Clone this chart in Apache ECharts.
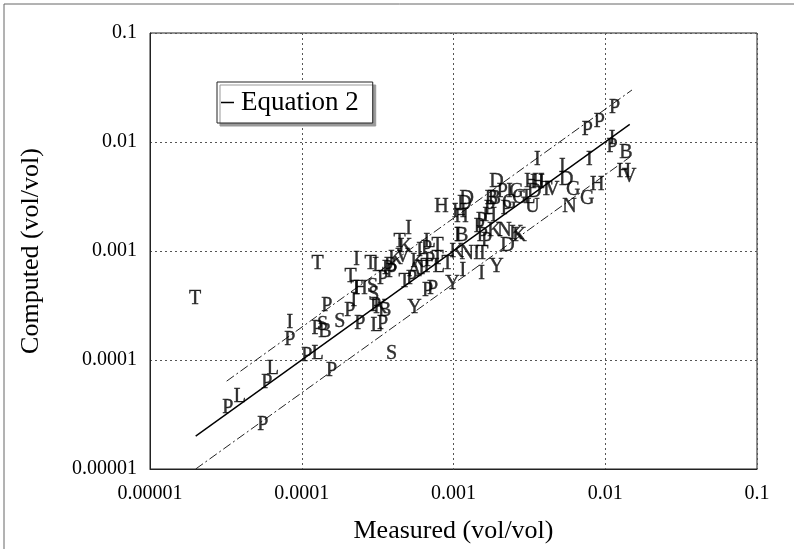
<!DOCTYPE html>
<html>
<head>
<meta charset="utf-8">
<script src="https://cdn.jsdelivr.net/npm/echarts@6/dist/echarts.min.js"></script>
<style>
  html, body { margin: 0; padding: 0; background: #fff; }
  #chart { width: 794px; height: 549px; }
</style>
</head>
<body>
<div id="chart"></div>
<script>
// tick labels for both log axes
const tickLabels = ['0.00001', '0.0001', '0.001', '0.01', '0.1']

// point codes with measured / computed values (vol/vol)
const codes = [
  'T','I','P','P','L','P','L','P','L','P','P','S','P','P','B','S','S','P','P','L','P',
  'T','I','T','L','B','T','T','I','H','S','S','P','P','P','K','B',
  'I','T','K','K','V','I','P','L','T','P','T','K','T','L','T','P','T','P','A','T',
  'Y','P','P','Y','I','I','Y','K','N','I','T','I','B','H','H','D','H',
  'P','P','K','P','N','K','K','D','P','H','P','P','D','B','B','P','I','G','G','G',
  'H','H','I','D','L','U','T','V','I','I','D','G','N','G','H','I',
  'P','P','P','I','P','B','H','V','D'
]
const measured = [
  1.98e-5, 8.34e-5, 8.34e-5, 3.26e-5, 3.91e-5, 5.89e-5, 6.44e-5, 1.08e-4, 1.27e-4, 5.53e-5, 1.57e-4, 3.91e-4, 1.46e-4, 1.26e-4, 1.42e-4, 1.37e-4, 1.78e-4, 2.07e-4, 2.41e-4, 3.11e-4, 3.41e-4,
  1.27e-4, 2.30e-4, 2.84e-4, 3.20e-4, 3.85e-4, 2.10e-4, 2.30e-4, 2.20e-4, 2.44e-4, 2.93e-4, 2.98e-4, 3.41e-4, 3.91e-4, 3.07e-4, 3.30e-4, 3.52e-4,
  5.06e-4, 4.42e-4, 4.80e-4, 4.15e-4, 4.62e-4, 5.97e-4, 6.64e-4, 6.95e-4, 7.85e-4, 6.95e-4, 7.85e-4, 5.80e-4, 6.64e-4, 8.00e-4, 9.13e-4, 3.68e-4, 4.76e-4, 5.30e-4, 5.54e-4, 6.16e-4,
  5.54e-4, 6.74e-4, 7.27e-4, 9.85e-4, 1.15e-3, 1.53e-3, 1.92e-3, 1.05e-3, 1.22e-3, 1.42e-3, 1.55e-3, 1.06e-3, 1.13e-3, 1.13e-3, 1.09e-3, 1.18e-3, 8.34e-4,
  1.48e-3, 1.55e-3, 1.86e-3, 1.65e-3, 2.17e-3, 2.60e-3, 2.72e-3, 2.27e-3, 1.73e-3, 1.73e-3, 1.53e-3, 2.23e-3, 1.92e-3, 1.78e-3, 1.86e-3, 2.10e-3, 2.34e-3, 2.60e-3, 2.34e-3, 2.72e-3,
  3.26e-3, 3.57e-3, 3.79e-3, 3.41e-3, 3.16e-3, 3.31e-3, 4.09e-3, 4.48e-3, 3.57e-3, 5.21e-3, 5.54e-3, 6.16e-3, 5.80e-3, 7.62e-3, 8.85e-3, 7.85e-3,
  7.62e-3, 9.14e-3, 1.15e-2, 1.11e-2, 1.11e-2, 1.37e-2, 1.33e-2, 1.44e-2, 1.22e-3
]
const computed = [
  3.65e-4, 2.20e-4, 1.54e-4, 3.61e-5, 4.64e-5, 6.23e-5, 8.36e-5, 1.10e-4, 1.15e-4, 2.52e-5, 8.02e-5, 1.15e-4, 3.15e-4, 1.94e-4, 1.82e-4, 2.11e-4, 2.25e-4, 2.83e-4, 2.15e-4, 2.07e-4, 2.15e-4,
  7.61e-4, 8.30e-4, 7.61e-4, 7.30e-4, 7.30e-4, 5.79e-4, 4.50e-4, 3.49e-4, 4.50e-4, 4.69e-4, 3.97e-4, 5.55e-4, 6.43e-4, 3.15e-4, 3.02e-4, 2.83e-4,
  1.59e-3, 1.21e-3, 1.09e-3, 8.45e-4, 8.80e-4, 1.00e-3, 1.04e-3, 1.21e-3, 1.11e-3, 8.10e-4, 8.45e-4, 7.94e-4, 7.14e-4, 7.14e-4, 7.61e-4, 6.85e-4, 5.21e-4, 5.55e-4, 6.57e-4, 6.85e-4,
  3.02e-4, 4.31e-4, 4.50e-4, 5.00e-4, 6.57e-4, 6.17e-4, 7.14e-4, 9.80e-4, 9.40e-4, 9.40e-4, 9.40e-4, 1.37e-3, 1.37e-3, 2.05e-3, 2.30e-3, 2.69e-3, 2.52e-3,
  1.66e-3, 1.37e-3, 1.52e-3, 1.23e-3, 1.52e-3, 1.43e-3, 1.37e-3, 1.11e-3, 2.42e-3, 2.09e-3, 1.88e-3, 2.42e-3, 4.36e-3, 2.99e-3, 2.99e-3, 3.53e-3, 3.53e-3, 3.53e-3, 2.80e-3, 3.11e-3,
  4.36e-3, 4.27e-3, 4.36e-3, 3.53e-3, 3.11e-3, 2.52e-3, 3.68e-3, 3.68e-3, 6.92e-3, 5.98e-3, 4.54e-3, 3.68e-3, 2.52e-3, 2.99e-3, 4.09e-3, 6.92e-3,
  1.30e-2, 1.54e-2, 2.07e-2, 1.07e-2, 9.10e-3, 8.00e-3, 5.38e-3, 4.84e-3, 2.99e-3
]

// Equation 2 line (1:1) and the factor-of-two bands
const eqX = [2.0e-5, 1.45e-2]
const eqY = [2.0e-5, 1.45e-2]
const upperX = [3.2e-5, 1.5e-2]
const upperY = [6.4e-5, 3.0e-2]
const lowerX = [2.0e-5, 1.45e-2]
const lowerY = [1.0e-5, 7.25e-3]

const serif = 'Liberation Serif'
const pairs = (xs, ys) => xs.map((x, i) => [x, ys[i]])
const fmt = v => tickLabels[Math.round(Math.log10(v)) + 5] || ''

const chart = echarts.init(document.getElementById('chart'))

const logAxis = (name, gap, margin) => ({
  type: 'log',
  logBase: 10,
  min: 1e-5,
  max: 0.1,
  name: name,
  nameLocation: 'middle',
  nameGap: gap,
  nameTextStyle: { fontFamily: serif, fontSize: 26, color: '#000' },
  axisLine: { show: true, lineStyle: { color: '#222', width: 1 } },
  axisTick: { show: false },
  minorTick: { show: false },
  axisLabel: { fontFamily: serif, fontSize: 20, color: '#000', formatter: fmt, margin: margin },
  splitLine: { show: true, lineStyle: { color: '#555', type: [2, 3], width: 1 } }
})

chart.setOption({
  animation: false,
  backgroundColor: '#fff',
  graphic: [{
    type: 'rect',
    shape: { x: 4, y: 4, width: 820, height: 600 },
    style: { fill: 'none', stroke: '#666', lineWidth: 1 },
    silent: true
  }],
  grid: {
    left: 150, right: 37, top: 33, bottom: 78,
    show: true, borderColor: '#222', borderWidth: 1
  },
  legend: {
    left: 217, top: 82,
    data: [{ name: 'Equation 2', icon: 'rect' }],
    itemWidth: 13, itemHeight: 1.5, itemGap: 4,
    padding: [7, 14, 7, 4],
    backgroundColor: '#fff',
    borderColor: '#222', borderWidth: 1,
    shadowColor: '#999', shadowBlur: 0, shadowOffsetX: 3, shadowOffsetY: 3,
    textStyle: { fontFamily: serif, fontSize: 27, color: '#000', padding: [0, 0, 0, 2] }
  },
  xAxis: logAxis('Measured (vol/vol)', 49, 15),
  yAxis: logAxis('Computed (vol/vol)', 106, 13),
  series: [
    {
      name: 'Equation 2',
      type: 'line',
      data: pairs(eqX, eqY),
      symbol: 'none',
      lineStyle: { color: '#000', width: 1.4 },
      itemStyle: { color: '#000' },
      z: 3
    },
    {
      name: 'upper',
      type: 'line',
      data: pairs(upperX, upperY),
      symbol: 'none',
      lineStyle: { color: '#222', width: 1, type: [9, 3, 2, 3] },
      z: 3
    },
    {
      name: 'lower',
      type: 'line',
      data: pairs(lowerX, lowerY),
      symbol: 'none',
      lineStyle: { color: '#222', width: 1, type: [9, 3, 2, 3] },
      z: 3
    },
    {
      name: 'points',
      type: 'scatter',
      data: measured.map((m, i) => [m, computed[i], codes[i]]),
      symbolSize: 1,
      itemStyle: { color: 'rgba(0,0,0,0)' },
      label: {
        show: true,
        position: 'inside',
        formatter: p => p.data[2],
        fontFamily: serif,
        fontSize: 20,
        color: '#000',
        textBorderColor: '#000',
        textBorderWidth: 0.4
      },
      emphasis: { disabled: true },
      z: 4
    }
  ]
})
</script>
</body>
</html>
